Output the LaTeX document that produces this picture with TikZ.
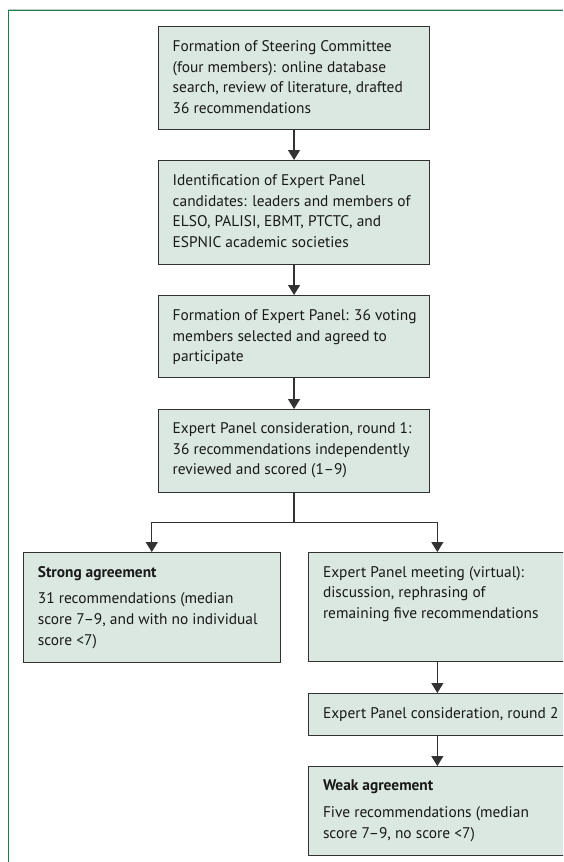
\documentclass[tikz,border=0pt]{standalone}
\usepackage{fontspec}
\setmainfont{PT Sans}
\usetikzlibrary{arrows.meta,calc}
\definecolor{boxfill}{RGB}{218,232,225}
\definecolor{boxline}{RGB}{50,50,50}
\definecolor{framegreen}{RGB}{22,128,72}
\definecolor{framegray}{RGB}{200,200,200}
\tikzset{
  box/.style={draw=boxline, fill=boxfill, line width=1.1pt, inner sep=0pt, anchor=north west},
  txt/.style={inner sep=0pt, anchor=north west, align=left, font=\fontsize{15.4}{20.6}\selectfont, text=black!90},
  conn/.style={draw=boxline, line width=1.2pt, -{Triangle[width=12pt,length=10pt]}},
  plain/.style={draw=boxline, line width=1.2pt}
}
\begin{document}
\begin{tikzpicture}[x=1pt,y=-1pt]
\clip (0,0) rectangle (563,862);
\fill[white] (0,0) rectangle (563,862);
% frame
\draw[framegray, line width=0.8pt] (8.3,9.2) -- (563,9.2);
\draw[framegreen, line width=1.4pt] (8.3,862) -- (8.3,10.7) -- (563,10.7);
% boxes
\node[box, minimum width=271pt, minimum height=103pt] (b1) at (158,26) {};
\node[box, minimum width=271pt, minimum height=104pt] (b2) at (158,160) {};
\node[box, minimum width=271pt, minimum height=82pt] (b3) at (158,295) {};
\node[box, minimum width=271pt, minimum height=83pt] (b4) at (158,409) {};
\node[box, minimum width=257pt, minimum height=110pt] (sl) at (22.7,552) {};
\node[box, minimum width=257pt, minimum height=109pt] (r1) at (308.3,552) {};
\node[box, minimum width=257pt, minimum height=42pt] (r2) at (308.3,693) {};
\node[box, minimum width=257pt, minimum height=89pt] (r3) at (308.3,766) {};
% texts
\node[txt] (t1) at ($(b1.north west)+(14.5,14.5)$) {Formation of Steering Committee\\(four members): online database\\search, review of literature, drafted\\36 recommendations};
\node[txt] (t2) at ($(b2.north west)+(14.5,14.5)$) {Identification of Expert Panel\\candidates: leaders and members of\\ELSO, PALISI, EBMT, PTCTC, and\\ESPNIC academic societies};
\node[txt] (t3) at ($(b3.north west)+(14.5,14.5)$) {Formation of Expert Panel: 36 voting\\members selected and agreed to\\participate};
\node[txt] (t4) at ($(b4.north west)+(14.5,13.5)$) {Expert Panel consideration, round 1:\\36 recommendations independently\\reviewed and scored (1–9)};
\node[txt] (tl) at ($(sl.north west)+(15,14)$) {\textbf{Strong agreement}\\[6pt]31 recommendations (median\\score 7–9, and with no individual\\score <7)};
\node[txt] (tr1) at ($(r1.north west)+(14.5,14)$) {Expert Panel meeting (virtual):\\discussion, rephrasing of\\remaining five recommendations};
\node[txt] (tr2) at ($(r2.north west)+(14.5,14)$) {Expert Panel consideration, round 2};
\node[txt] (tr3) at ($(r3.north west)+(14.5,14)$) {\textbf{Weak agreement}\\[6pt]Five recommendations (median\\score 7–9, no score <7)};
% connectors
\draw[conn] (b1.south) -- (b2.north);
\draw[conn] (b2.south) -- (b3.north);
\draw[conn] (b3.south) -- (b4.north);
\coordinate (split) at (b4.south |- 0,522.3);
\draw[plain] (b4.south) -- (split);
\draw[conn] (split) -| (sl.north);
\draw[conn] (split) -| (r1.north);
\draw[conn] (r1.south) -- (r2.north);
\draw[conn] (r2.south) -- (r3.north);
\end{tikzpicture}
\end{document}
